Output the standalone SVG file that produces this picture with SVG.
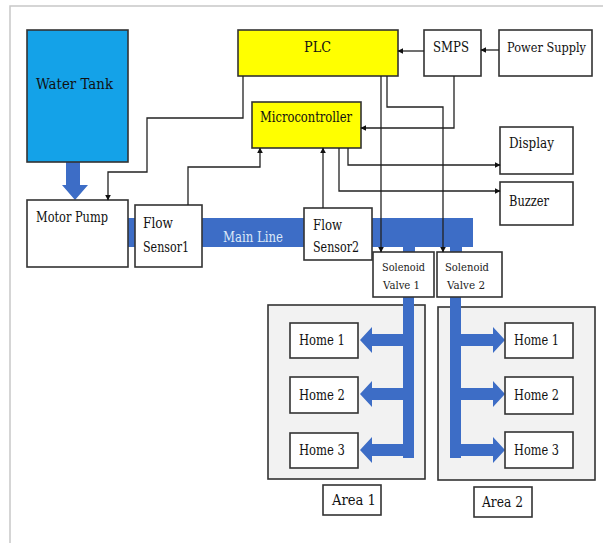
<svg xmlns="http://www.w3.org/2000/svg" width="603" height="543" viewBox="0 0 603 543">
<defs>
<style>
.box{fill:#fff;stroke:#333;stroke-width:1.6}
.yel{fill:#ffff00;stroke:#333;stroke-width:1.6}
.area{fill:#f2f2f2;stroke:#333;stroke-width:1.6}
text{font-family:'DejaVu Serif','Liberation Serif',serif}
.t{font-size:14px;fill:#111}
.ts{font-size:11.5px;fill:#222}
.c{fill:none;stroke:#222;stroke-width:1.3}
.pipe{fill:#3d6dc6}
</style>
<marker id="ah" viewBox="0 0 10 10" refX="9" refY="5" markerWidth="6" markerHeight="6" orient="auto" markerUnits="userSpaceOnUse">
<path d="M0,0 L10,5 L0,10 z" fill="#111"/>
</marker>
</defs>
<rect width="603" height="543" fill="#fff"/>
<path d="M10,543 V6 H603" fill="none" stroke="#c8c8c8" stroke-width="1.5"/>

<g id="area1-box"><rect class="area" x="268" y="305" width="157" height="174"/></g>
<g id="area2-box"><rect class="area" x="438" y="307" width="157" height="173"/></g>

<g id="pipes">
<rect class="pipe" x="128" y="218" width="345" height="29"/>
<rect class="pipe" x="403" y="245" width="12" height="7"/>
<rect class="pipe" x="450" y="245" width="12" height="7"/>
<path class="pipe" d="M66,162 H80 V185 H88 L75,200 L62,185 H66 Z"/>
<rect class="pipe" x="403" y="297" width="11" height="161"/>
<rect class="pipe" x="450" y="297" width="11" height="161"/>
<path class="pipe" d="M403,334 H372 V327 L360,340 L372,353 V346 H403 Z"/>
<path class="pipe" d="M403,388 H372 V381 L360,394 L372,407 V400 H403 Z"/>
<path class="pipe" d="M403,444 H372 V437 L360,450 L372,463 V456 H403 Z"/>
<path class="pipe" d="M461,334 H493 V327 L505,340 L493,353 V346 H461 Z"/>
<path class="pipe" d="M461,388 H493 V381 L505,394 L493,407 V400 H461 Z"/>
<path class="pipe" d="M461,444 H493 V437 L505,450 L493,463 V456 H461 Z"/>
<text x="223" y="242" font-size="14" fill="#dce8f7" textLength="60" lengthAdjust="spacingAndGlyphs">Main Line</text>
</g>

<g id="water-tank"><rect x="27" y="30" width="101" height="132" fill="#14a2e8" stroke="#333" stroke-width="1.6"/><text class="t" x="36" y="89" fill="#1a2a44" style="font-size:15.5px" textLength="77" lengthAdjust="spacingAndGlyphs">Water Tank</text></g>
<g id="motor-pump"><rect class="box" x="27" y="200" width="101" height="67"/><text class="t" x="36" y="222" textLength="72" lengthAdjust="spacingAndGlyphs">Motor Pump</text></g>
<g id="flow-sensor1"><rect class="box" x="135" y="205" width="67" height="62"/><text class="t" x="143" y="228" textLength="30" lengthAdjust="spacingAndGlyphs">Flow</text><text class="t" x="143" y="252" textLength="46" lengthAdjust="spacingAndGlyphs">Sensor1</text></g>
<g id="flow-sensor2"><rect class="box" x="304" y="208" width="68" height="52"/><text class="t" x="313" y="230" textLength="29" lengthAdjust="spacingAndGlyphs">Flow</text><text class="t" x="313" y="252" textLength="46" lengthAdjust="spacingAndGlyphs">Sensor2</text></g>
<g id="plc"><rect class="yel" x="238" y="30" width="160" height="46"/><text class="t" x="304" y="52" textLength="27" lengthAdjust="spacingAndGlyphs">PLC</text></g>
<g id="smps"><rect class="box" x="424" y="30" width="57" height="46"/><text class="t" x="433" y="52" textLength="36" lengthAdjust="spacingAndGlyphs">SMPS</text></g>
<g id="power-supply"><rect class="box" x="499" y="30" width="93" height="46"/><text x="507" y="52" style="font-size:13px;fill:#111" textLength="79" lengthAdjust="spacingAndGlyphs">Power Supply</text></g>
<g id="microcontroller"><rect class="yel" x="252" y="102" width="109" height="46"/><text class="t" x="260" y="122" textLength="92" lengthAdjust="spacingAndGlyphs">Microcontroller</text></g>
<g id="display"><rect class="box" x="500" y="127" width="73" height="47"/><text class="t" x="509" y="148" textLength="45" lengthAdjust="spacingAndGlyphs">Display</text></g>
<g id="buzzer"><rect class="box" x="500" y="182" width="73" height="43"/><text class="t" x="509" y="206" textLength="40" lengthAdjust="spacingAndGlyphs">Buzzer</text></g>
<g id="solenoid-valve-1"><rect class="box" x="373" y="252" width="61" height="45"/><text class="ts" x="382" y="271" textLength="43" lengthAdjust="spacingAndGlyphs">Solenoid</text><text class="ts" x="383" y="289" textLength="37" lengthAdjust="spacingAndGlyphs">Valve 1</text></g>
<g id="solenoid-valve-2"><rect class="box" x="437" y="252" width="65" height="45"/><text class="ts" x="445" y="271" textLength="44" lengthAdjust="spacingAndGlyphs">Solenoid</text><text class="ts" x="447" y="289" textLength="38" lengthAdjust="spacingAndGlyphs">Valve 2</text></g>

<g id="a1-home1"><rect class="box" x="290" y="323" width="68" height="35"/><text class="t" x="299" y="345" textLength="46" lengthAdjust="spacingAndGlyphs">Home 1</text></g>
<g id="a1-home2"><rect class="box" x="290" y="377" width="68" height="36"/><text class="t" x="299" y="400" textLength="46" lengthAdjust="spacingAndGlyphs">Home 2</text></g>
<g id="a1-home3"><rect class="box" x="290" y="433" width="68" height="35"/><text class="t" x="299" y="455" textLength="46" lengthAdjust="spacingAndGlyphs">Home 3</text></g>
<g id="a2-home1"><rect class="box" x="505" y="323" width="68" height="35"/><text class="t" x="514" y="345" textLength="45" lengthAdjust="spacingAndGlyphs">Home 1</text></g>
<g id="a2-home2"><rect class="box" x="505" y="377" width="68" height="37"/><text class="t" x="514" y="400" textLength="45" lengthAdjust="spacingAndGlyphs">Home 2</text></g>
<g id="a2-home3"><rect class="box" x="505" y="432" width="68" height="36"/><text class="t" x="514" y="455" textLength="45" lengthAdjust="spacingAndGlyphs">Home 3</text></g>

<g id="area1-label"><rect class="box" x="323" y="485" width="58" height="30"/><text class="t" x="332" y="505" textLength="44" lengthAdjust="spacingAndGlyphs">Area 1</text></g>
<g id="area2-label"><rect class="box" x="474" y="487" width="58" height="30"/><text class="t" x="482" y="507" textLength="41" lengthAdjust="spacingAndGlyphs">Area 2</text></g>

<g id="connectors">
<path class="c" d="M243,76 V118 H147 V172 H108 V200" marker-end="url(#ah)"/>
<path class="c" d="M188,205 V167 H260 V148" marker-end="url(#ah)"/>
<path class="c" d="M323,208 V148" marker-end="url(#ah)"/>
<path class="c" d="M454,76 V128 H361" marker-end="url(#ah)"/>
<path class="c" d="M381,76 V252" marker-end="url(#ah)"/>
<path class="c" d="M387,76 V107 H443 V252" marker-end="url(#ah)"/>
<path class="c" d="M348,148 V165 H500" marker-end="url(#ah)"/>
<path class="c" d="M339,148 V191 H500" marker-end="url(#ah)"/>
<path class="c" d="M499,50 H481" marker-end="url(#ah)"/>
<path class="c" d="M424,51 H398" marker-end="url(#ah)"/>
</g>
</svg>
